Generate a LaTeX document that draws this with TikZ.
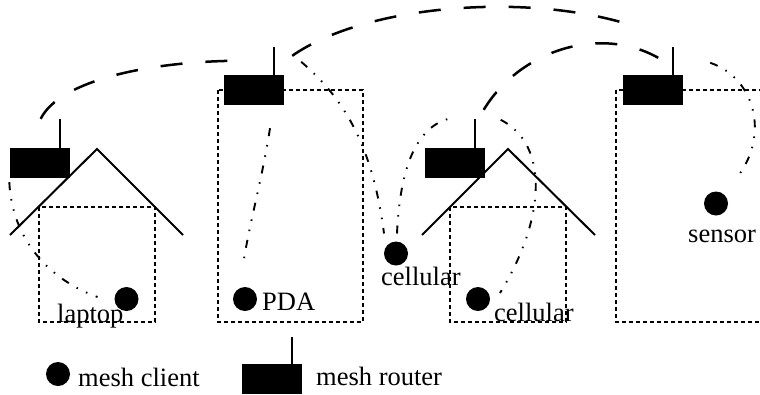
\documentclass[tikz,border=0pt]{standalone}
\usepackage{fontspec}
\setmainfont{Liberation Serif}
\usetikzlibrary{positioning}
\begin{document}
\begin{tikzpicture}[x=1pt,y=-1pt,
  router/.style={fill,rectangle,minimum width=60pt,minimum height=30pt,inner sep=0pt},
  client/.style={fill,circle,minimum size=24pt,inner sep=0pt},
  txt/.style={font=\fontsize{26.5}{30}\selectfont,inner sep=0pt,anchor=base west},
  room/.style={line width=2.8pt,dash pattern=on 4pt off 3pt},
  roof/.style={line width=2pt},
  antenna/.style={line width=1.6pt},
  wireless/.style={line width=2.5pt,dash pattern=on 22pt off 23pt},
  radio/.style={line width=1.9pt,dash pattern=on 8pt off 9pt on 1.5pt off 9pt on 1.5pt off 9pt}]
  \useasboundingbox (0,0) rectangle (760,394);
  \draw[room] (39,207) rectangle (155,322);
  \draw[room] (450,207) rectangle (566,322);
  \draw[room] (218,90) rectangle (363,322);
  \draw[room] (616,90) rectangle (790,322);
  \draw[roof] (10,235) -- (97,149) -- (183,235);
  \draw[roof] (422,235) -- (508,149) -- (595,235);
  \node[router] (r1) at (39.5,163) {};
  \node[router] (r2) at (254,90) {};
  \node[router] (r3) at (454.5,163) {};
  \node[router] (r4) at (653,90) {};
  \draw[antenna] ([xshift=-10pt]r1.north east) -- ++(0,-29) coordinate (a1);
  \draw[antenna] ([xshift=-10pt]r2.north east) -- ++(0,-28) coordinate (a2);
  \draw[antenna] ([xshift=-10pt]r3.north east) -- ++(0,-29) coordinate (a3);
  \draw[antenna] ([xshift=-10pt]r4.north east) -- ++(0,-28) coordinate (a4);
  \node[client] (lap) at (126.5,299) {};
  \node[client] (pda) at (245,299) {};
  \node[client] (cel1) at (396,253.5) {};
  \node[client] (cel2) at (478,299) {};
  \node[client] (sen) at (716,203.5) {};
  \node[txt] (tlap) at (57,322) {laptop};
  \node[txt] (tpda) at (262,310) {PDA};
  \node[txt] (tcel1) at (381,285) {cellular};
  \node[txt] (tcel2) at (494,321) {cellular};
  \node[txt] (tsen) at (688,242) {sensor};
  \draw[wireless] ([xshift=-19pt]a1) .. controls (60,80) and (150,62) .. ([shift={(-41,14)}]a2);
  \draw[wireless] ([shift={(18,9)}]a2) .. controls (365,5) and (525,-8) .. ([shift={(-43,-22)}]a4);
  \draw[wireless] ([shift={(9,-9)}]a3) .. controls (520,50) and (600,25) .. ([shift={(-15,11)}]a4);
  \draw[radio] ([yshift=-4pt]r1.south west) .. controls (12,240) and (50,280) .. ([shift={(-29,-2)}]lap.center);
  \draw[radio] ([shift={(16,23)}]r2.south) .. controls (262,180) and (250,220) .. ([shift={(-2,-34)}]pda.center);
  \draw[radio] ([shift={(17,-13)}]r2.north east) .. controls (340,95) and (372,140) .. ([shift={(-12,-20)}]cel1.center);
  \draw[radio] ([shift={(1,-20)}]cel1.center) .. controls (400,170) and (415,125) .. ([shift={(-22,-1)}]a3);
  \draw[radio] ([shift={(26,1)}]a3) .. controls (550,145) and (545,220) .. ([shift={(22,-6)}]cel2.center);
  \draw[radio] ([shift={(27,-12)}]r4.north east) .. controls (755,78) and (770,135) .. ([shift={(21,-26)}]sen.center);
  \node[client] (lc) at (58,374) {};
  \node[txt] (tlc) at (78,386) {mesh client};
  \node[router] (rl) at (272,379) {};
  \draw[antenna] ([xshift=-10pt]rl.north east) -- ++(0,-27);
  \node[txt] (trl) at (316,385) {mesh router};
\end{tikzpicture}
\end{document}
